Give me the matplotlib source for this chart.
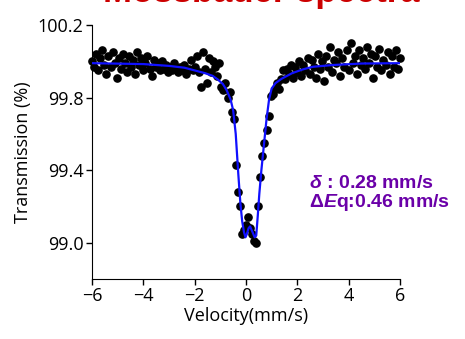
import matplotlib
matplotlib.use("Agg")
import matplotlib.pyplot as plt

plt.rcParams['font.family'] = ['Open Sans', 'DejaVu Sans']
plt.rcParams['mathtext.fontset'] = 'custom'
plt.rcParams['mathtext.rm'] = 'Liberation Sans:bold'
plt.rcParams['mathtext.it'] = 'Liberation Sans:bold:italic'

# measured points (velocity in mm/s, transmission in %)
velocity = [
    -6.00, -5.92, -5.84, -5.76, -5.68, -5.60, -5.52, -5.44, -5.36, -5.28,
    -5.20, -5.12, -5.04, -4.96, -4.88, -4.80, -4.72, -4.64, -4.56, -4.48,
    -4.40, -4.32, -4.24, -4.16, -4.08, -4.00, -3.92, -3.84, -3.76, -3.68,
    -3.60, -3.52, -3.44, -3.36, -3.28, -3.20, -3.12, -3.04, -2.96, -2.88,
    -2.80, -2.72, -2.64, -2.56, -2.48, -2.40, -2.32, -2.24, -2.16, -2.08,
    -2.00, -1.92, -1.84, -1.76, -1.68, -1.60, -1.52, -1.44, -1.36, -1.28,
    -1.20, -1.12, -1.04,
    -0.96, -0.88, -0.80, -0.72, -0.64, -0.56, -0.48, -0.40, -0.32, -0.24,
    -0.16, -0.08, 0.00, 0.08, 0.16, 0.24, 0.32, 0.40, 0.48, 0.56,
    0.64, 0.72, 0.80, 0.88, 0.96, 1.04, 1.12, 1.20, 1.28, 1.36, 1.44,
    1.52, 1.60, 1.68, 1.76, 1.84, 1.92, 2.00, 2.08, 2.16, 2.24,
    2.32, 2.40, 2.48, 2.56, 2.64, 2.72, 2.80, 2.88, 2.96, 3.04,
    3.12, 3.20, 3.28, 3.36, 3.44, 3.52, 3.60, 3.68, 3.76, 3.84,
    3.92, 4.00, 4.08, 4.16, 4.24, 4.32, 4.40, 4.48, 4.56, 4.64,
    4.72, 4.80, 4.88, 4.96, 5.04, 5.12, 5.20, 5.28, 5.36, 5.44,
    5.52, 5.60, 5.68, 5.76, 5.84, 5.92, 6.00,
]
transmission = [
    100.00, 99.97, 100.04, 99.95, 100.02, 100.06, 99.98, 99.93, 100.03, 99.97,
    100.05, 99.99, 99.91, 100.02, 99.96, 100.04, 99.99, 99.94, 100.03, 99.97,
    100.01, 99.93, 100.05, 99.98, 100.02, 99.95, 99.99, 100.03, 99.96, 99.92,
    100.01, 99.97, 99.99, 99.95, 100.00, 99.96, 99.98, 99.94, 99.97, 99.95,
    99.99, 99.96, 99.94, 99.97, 99.95, 99.98, 99.93, 99.96, 100.01, 99.95,
    99.97, 100.03, 99.94, 99.86, 100.05, 99.96, 99.88, 100.02, 99.94, 100.00,
    99.97, 99.92, 99.99,
    99.86, 99.84, 99.88, 99.80, 99.83, 99.72, 99.68, 99.43, 99.28, 99.20,
    99.05, 99.07, 99.10, 99.14, 99.08, 99.05, 99.01, 99.00, 99.20, 99.36,
    99.48, 99.55, 99.62, 99.70, 99.81, 99.82, 99.85, 99.88, 99.85, 99.90, 99.95,
    99.90, 99.96, 99.93, 99.98, 99.91, 99.97, 99.94, 100.00, 99.92, 99.98,
    99.95, 100.02, 99.93, 100.01, 99.97, 99.91, 100.04, 99.96, 100.00, 99.89,
    100.03, 99.97, 100.08, 99.94, 100.01, 99.99, 100.05, 99.92, 100.02, 99.97,
    100.06, 99.95, 100.10, 99.99, 100.03, 99.93, 100.06, 99.98, 100.02, 99.96,
    100.08, 99.99, 100.04, 99.91, 100.03, 99.97, 100.07, 99.95, 100.01, 99.98,
    100.05, 99.93, 100.03, 99.97, 100.06, 99.96, 100.02,
]

# fitted doublet
fit_velocity = [
    -6.0, -4.0, -3.0, -2.4, -2.0, -1.6, -1.3, -1.1, -0.9, -0.75,
    -0.6, -0.5, -0.4, -0.3, -0.22, -0.15, -0.08, -0.02, 0.04, 0.1,
    0.16, 0.22, 0.28, 0.34, 0.40, 0.46, 0.52, 0.6, 0.7, 0.8,
    0.9, 1.0, 1.15, 1.4, 1.8, 2.2, 2.6, 3.4, 4.5, 6.0,
]
fit_transmission = [
    99.99, 99.985, 99.975, 99.965, 99.95, 99.935, 99.92, 99.90, 99.875, 99.84,
    99.79, 99.73, 99.60, 99.38, 99.22, 99.12, 99.06, 99.03, 99.05, 99.08,
    99.09, 99.07, 99.05, 99.03, 99.04, 99.15, 99.27, 99.40, 99.54, 99.68,
    99.79, 99.85, 99.88, 99.905, 99.935, 99.955, 99.97, 99.98, 99.988, 99.99,
]

fig = plt.figure(figsize=(4.65, 3.39), dpi=100)
ax = fig.add_axes([0.198, 0.177, 0.662, 0.749])

ax.scatter(velocity, transmission, s=27, color='black', zorder=2, clip_on=False)
ax.plot(fit_velocity, fit_transmission, color='#1010ff', lw=1.6, zorder=3)

ax.set_xlim(-6, 6)
ax.set_ylim(98.8, 100.2)
ax.set_xticks([-6, -4, -2, 0, 2, 4, 6])
ax.set_yticks([99.0, 99.4, 99.8, 100.2])
ax.set_yticklabels(['99.0', '99.4', '99.8', '100.2'])
ax.spines['top'].set_visible(False)
ax.spines['right'].set_visible(False)
ax.tick_params(direction='out', length=4, width=1, labelsize=13, pad=2)
ax.set_xlabel('Velocity(mm/s)', fontsize=13, labelpad=1)
ax.set_ylabel('Transmission (%)', fontsize=13, labelpad=4)

purple = '#6a00a8'
ax.text(2.45, 99.30, r'$\delta$ : 0.28 mm/s', color=purple, fontsize=14,
        fontweight='bold', family='Liberation Sans', va='baseline')
ax.text(2.45, 99.195, r'$\Delta E$q:0.46 mm/s', color=purple, fontsize=14,
        fontweight='bold', family='Liberation Sans', va='baseline')

fig.text(0.562, 0.994, 'Mössbauer spectra', color='#cc0000', fontsize=25,
         fontweight='bold', family='Liberation Sans', ha='center', va='baseline')

fig.savefig('out.png', dpi=100)
